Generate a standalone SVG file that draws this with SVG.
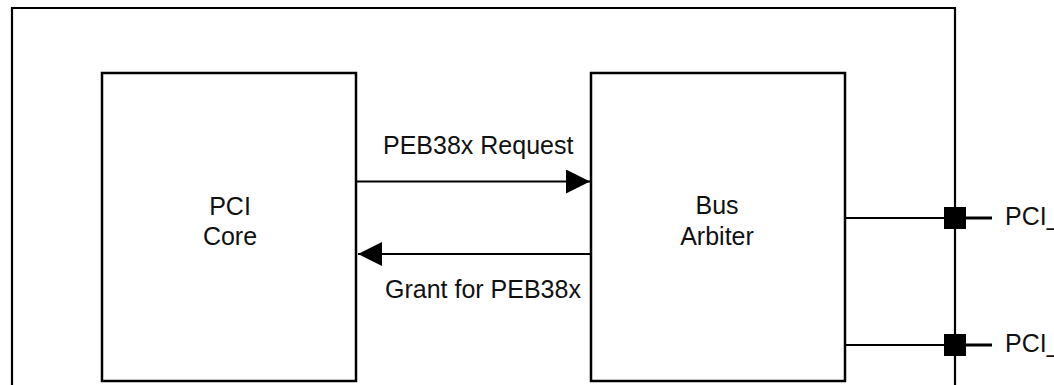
<svg xmlns="http://www.w3.org/2000/svg" width="1054" height="385" viewBox="0 0 1054 385">
<style>
.box{fill:#fff;stroke:#000;stroke-width:2.5}
.ln{fill:none;stroke:#000;stroke-width:2.2}
.stub{fill:none;stroke:#000;stroke-width:3}
.t{font-family:"Liberation Sans",Arial,sans-serif;font-size:25px;fill:#111}
.c{text-anchor:middle}
</style>
<defs>
<marker id="ah" viewBox="0 0 24 24" refX="24" refY="12" markerWidth="24" markerHeight="24" markerUnits="userSpaceOnUse" orient="auto">
<path d="M0,0 L24,12 L0,24 Z" fill="#000"/>
</marker>
</defs>
<rect width="1054" height="385" fill="#fff"/>
<g id="outer">
<path class="ln" d="M12,386 V8 H955 V386"/>
</g>
<g id="pci-core">
<rect class="box" x="102" y="73" width="254" height="308"/>
<text class="t c" x="230" y="215">PCI</text>
<text class="t c" x="230" y="245">Core</text>
</g>
<g id="bus-arbiter">
<rect class="box" x="591" y="73" width="254" height="308"/>
<text class="t c" x="717" y="214">Bus</text>
<text class="t c" x="717" y="245">Arbiter</text>
</g>
<g id="connectors">
<line class="ln" x1="357" y1="181.5" x2="590" y2="181.5" marker-end="url(#ah)"/>
<line class="ln" x1="590" y1="254" x2="358" y2="254" marker-end="url(#ah)"/>
<line class="ln" x1="846" y1="218" x2="955" y2="218"/>
<line class="stub" x1="955" y1="218" x2="992" y2="218"/>
<rect x="944" y="207" width="22" height="22" fill="#000"/>
<line class="ln" x1="846" y1="345" x2="955" y2="345"/>
<line class="stub" x1="955" y1="345" x2="992" y2="345"/>
<rect x="944" y="334" width="22" height="22" fill="#000"/>
</g>
<g id="labels">
<text class="t" x="383" y="154">PEB38x Request</text>
<text class="t" x="385" y="298">Grant for PEB38x</text>
<text class="t" x="1005" y="225">PCI_</text>
<text class="t" x="1005" y="352">PCI_</text>
</g>
</svg>
